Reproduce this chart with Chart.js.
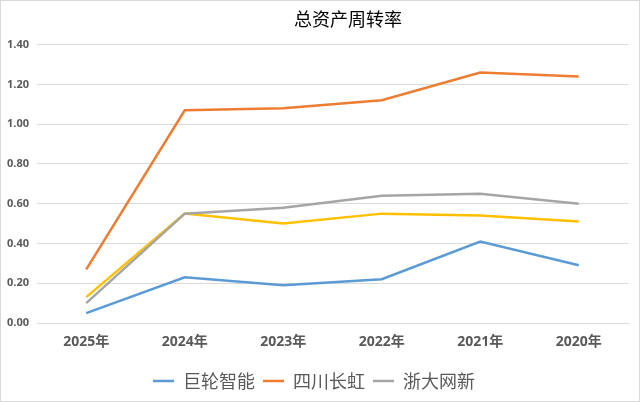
<!DOCTYPE html>
<html>
<head>
<meta charset="utf-8">
<script src="https://cdn.jsdelivr.net/npm/chart.js@4/dist/chart.umd.min.js"></script>
<style>
  html, body { margin: 0; padding: 0; background: #ffffff; }
  canvas { display: block; }
</style>
</head>
<body>
<canvas id="chart" width="640" height="402"></canvas>
<script>
const years = ['2025年', '2024年', '2023年', '2022年', '2021年', '2020年'];
const juLun = [0.05, 0.23, 0.19, 0.22, 0.41, 0.29];
const changHong = [0.27, 1.07, 1.08, 1.12, 1.26, 1.24];
const zheDa = [0.10, 0.55, 0.58, 0.64, 0.65, 0.60];
const other = [0.13, 0.55, 0.50, 0.55, 0.54, 0.51];
const yTicks = [0, 0.2, 0.4, 0.6, 0.8, 1.0, 1.2, 1.4];

const numFont = "'Open Sans', 'Noto Sans CJK SC', sans-serif";
const cjkFont = "'Noto Sans CJK SC', sans-serif";

function series(label, data, color) {
    return {
        label: label,
        data: data,
        borderColor: color,
        backgroundColor: color,
        borderWidth: 2.5,
        pointRadius: 0,
        pointHoverRadius: 0,
        tension: 0,
        fill: false
    };
}

const ctx = document.getElementById('chart').getContext('2d');

new Chart(ctx, {
    type: 'line',
    data: {
        labels: years,
        datasets: [
            series('巨轮智能', juLun, '#5b9bd5'),
            series('四川长虹', changHong, '#ed7d31'),
            series('浙大网新', zheDa, '#a5a5a5'),
            series('其他', other, '#ffc000')
        ]
    },
    options: {
        responsive: false,
        animation: false,
        devicePixelRatio: 1,
        layout: {
            padding: { top: 0, bottom: 2, left: 0, right: 12 }
        },
        scales: {
            x: {
                offset: true,
                grid: { display: false, drawTicks: false },
                border: { display: true, color: '#d9d9d9', width: 1 },
                ticks: {
                    padding: 11,
                    color: '#595959',
                    font: { family: numFont, size: 14, weight: 'bold' }
                },
                afterFit: (scale) => { scale.height = 41; }
            },
            y: {
                min: 0,
                max: 1.4,
                afterBuildTicks: (scale) => {
                    scale.ticks = yTicks.map(v => ({ value: v }));
                },
                grid: { color: '#d9d9d9', lineWidth: 1, drawTicks: false },
                border: { display: false },
                ticks: {
                    padding: 8,
                    color: '#595959',
                    font: { family: numFont, size: 11, weight: 'bold' },
                    callback: (value) => Number(value).toFixed(2)
                },
                afterFit: (scale) => { scale.width = 37; }
            }
        },
        plugins: {
            title: {
                display: true,
                text: '总资产周转率',
                color: '#000000',
                font: { family: cjkFont, size: 18, weight: 'normal' },
                padding: { top: 8, bottom: 15 }
            },
            legend: {
                position: 'bottom',
                labels: {
                    usePointStyle: true,
                    pointStyle: 'line',
                    pointStyleWidth: 21,
                    boxWidth: 21,
                    padding: 8,
                    color: '#595959',
                    font: { family: cjkFont, size: 18 },
                    filter: (item) => item.text !== '其他'
                }
            },
            tooltip: { enabled: false }
        }
    },
    plugins: [{
        id: 'frame',
        afterLayout: (chart) => {
            // title sits a bit right of centre in the original
            const t = chart.titleBlock;
            if (t) { t.left += 34; t.right += 34; }
        },
        beforeDraw: (chart) => {
            const c = chart.ctx;
            c.save();
            c.fillStyle = '#ffffff';
            c.fillRect(0, 0, chart.width, chart.height);
            c.strokeStyle = '#d9d9d9';
            c.lineWidth = 1;
            c.strokeRect(0.5, 0.5, chart.width - 1, chart.height - 1);
            c.restore();
        }
    }]
});
</script>
</body>
</html>
